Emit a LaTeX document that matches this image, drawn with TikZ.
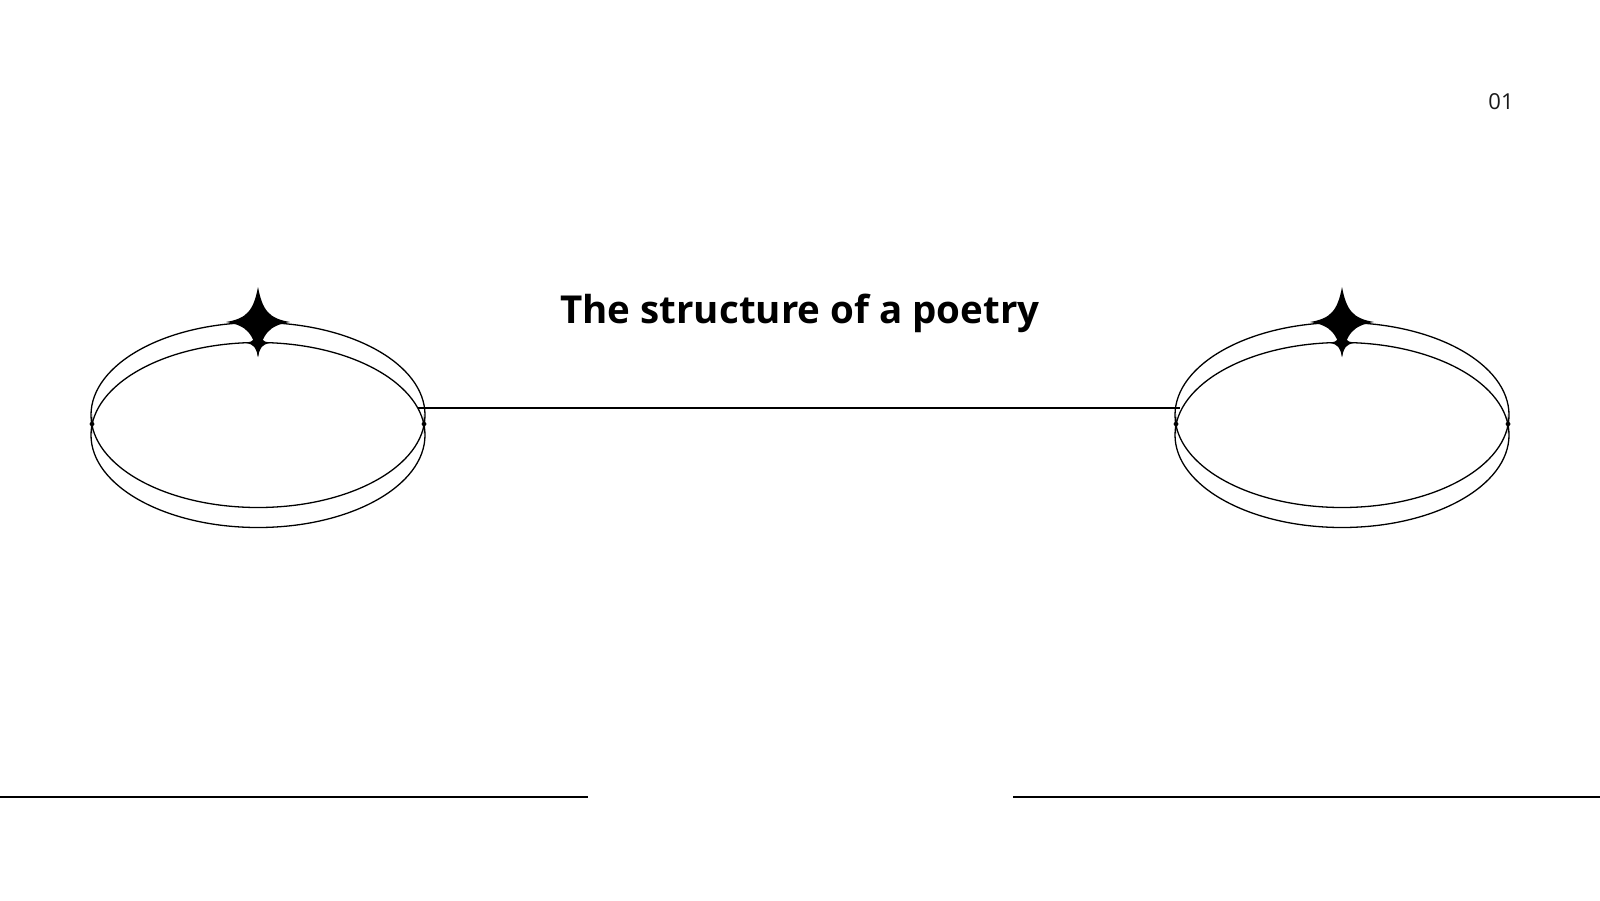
\documentclass[tikz,border=0pt]{standalone}
\usepackage{fontspec}
\setmainfont{Open Sans}
\usetikzlibrary{positioning}

\tikzset{
  ring/.style={line width=1.3pt},
  rule/.style={line width=1.3pt},
}
% four pointed star: centre x, centre y, half width, half height
\newcommand{\twinkle}[4]{%
  \fill[shift={(#1,#2)}] (0,-#4) .. controls (0.14*#3,-0.32*#4) and (0.35*#3,-0.1*#4) .. (#3,0)
    .. controls (0.35*#3,0.1*#4) and (0.14*#3,0.32*#4) .. (0,#4)
    .. controls (-0.14*#3,0.32*#4) and (-0.35*#3,0.1*#4) .. (-#3,0)
    .. controls (-0.35*#3,-0.1*#4) and (-0.14*#3,-0.32*#4) .. cycle;}

\begin{document}
\begin{tikzpicture}[x=1pt, y=-1pt]

\useasboundingbox[fill=white] (0,0) rectangle (1600,900);

\foreach \cx in {258, 1342}{
  \draw[ring] (\cx, 415) ellipse (167 and 92.5);
  \draw[ring] (\cx, 435) ellipse (167 and 92.5);
  \twinkle{\cx}{322}{32}{35}
  \twinkle{\cx}{343}{12}{14}
  \twinkle{\cx-166}{424}{2.5}{10}
  \twinkle{\cx+166}{424}{2.5}{10}
}

\coordinate (linkstart) at (418, 408);
\coordinate (linkend) at (1180, 408);
\draw[rule] (linkstart) -- (linkend);

\node[anchor=base, font=\bfseries\fontsize{38.5}{44}\selectfont] (title) at (800, 323) {The structure of a poetry};

\node[anchor=base, text=black!90, font=\fontsize{22}{26}\selectfont] (pagenum) at (1501, 109) {01};

\coordinate (footl1) at (0, 797);
\coordinate (footl2) at (588, 797);
\coordinate (footr1) at (1013, 797);
\coordinate (footr2) at (1600, 797);
\draw[rule] (footl1) -- (footl2);
\draw[rule] (footr1) -- (footr2);

\end{tikzpicture}
\end{document}
